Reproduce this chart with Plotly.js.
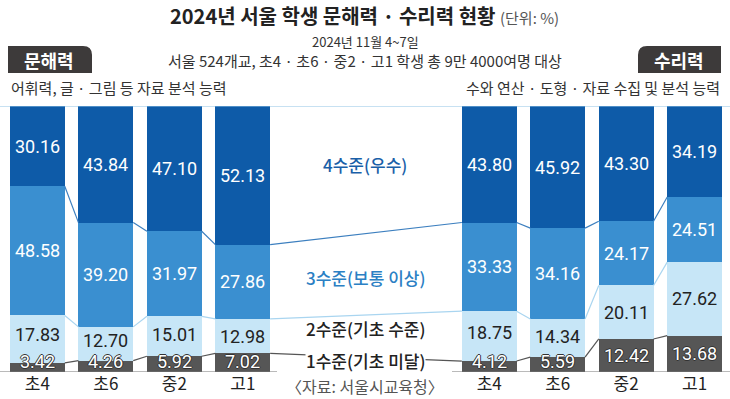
<!DOCTYPE html>
<html>
<head>
<meta charset="utf-8">
<script src="https://cdn.plot.ly/plotly-3.0.1.min.js"></script>
<style>
  html, body { margin: 0; padding: 0; background: #fff; }
  #chart { width: 730px; height: 399px; }
</style>
</head>
<body>
<div id="chart"></div>
<script>
// ---------- DATA ----------
const categories = ['초4', '초6', '중2', '고1'];
// 문해력 (literacy)
const lit1 = [3.42, 4.26, 5.92, 7.02];     // 1수준(기초 미달)
const lit2 = [17.83, 12.70, 15.01, 12.98]; // 2수준(기초 수준)
const lit3 = [48.58, 39.20, 31.97, 27.86]; // 3수준(보통 이상)
const lit4 = [30.16, 43.84, 47.10, 52.13]; // 4수준(우수)
// 수리력 (numeracy)
const num1 = [4.12, 5.59, 12.42, 13.68];
const num2 = [18.75, 14.34, 20.11, 27.62];
const num3 = [33.33, 34.16, 24.17, 24.51];
const num4 = [43.80, 45.92, 43.30, 34.19];

const levelNames = ['1수준(기초 미달)', '2수준(기초 수준)', '3수준(보통 이상)', '4수준(우수)'];

// ---------- LAYOUT HELPERS ----------
const FONT = 'Roboto, "Noto Sans CJK KR", sans-serif';
const KFONT = '"Noto Sans CJK KR", sans-serif';
const colors = ['#565656', '#c7e6f7', '#3a8fd0', '#0e5ba8'];
const lineColors = ['#555555', '#a9d5f0', '#3c7fbf'];
const barW = 0.8;
const rightOffset = 6.6;
const pos = [0, 1, 2, 3].concat([0, 1, 2, 3].map(i => i + rightOffset));

const L = [lit1, lit2, lit3, lit4];
const N = [num1, num2, num3, num4];
const levels = L.map((arr, k) => arr.concat(N[k]));

// plot area in pixels: x 10..722, y 106..372
const PL = 10, PR = 722, PT = 106, PB = 372;
const px = x => (x - PL) / (PR - PL);
const py = y => (PB - y) / (PB - PT);

const traces = levels.map((vals, k) => ({
  type: 'bar', x: pos, y: vals, width: barW, name: levelNames[k],
  marker: { color: colors[k], line: { width: 0 } },
  hoverinfo: 'skip', showlegend: false
}));

// cumulative boundaries
const cum = [];
let run = pos.map(() => 0);
for (let k = 0; k < 4; k++) {
  run = run.map((r, i) => r + levels[k][i]);
  cum.push(run.slice());
}

// connector lines between adjacent bars for boundaries 1/2, 2/3, 3/4
for (let k = 0; k < 3; k++) {
  const xs = [], ys = [];
  for (let i = 0; i < pos.length - 1; i++) {
    xs.push(pos[i] + barW / 2, pos[i + 1] - barW / 2, null);
    ys.push(cum[k][i], cum[k][i + 1], null);
  }
  traces.push({
    type: 'scatter', mode: 'lines', x: xs, y: ys,
    line: { color: lineColors[k], width: 1.2 },
    hoverinfo: 'skip', showlegend: false, cliponaxis: false
  });
}

// value labels
const annotations = [];
const fmt = v => v.toFixed(2);
const VS = 18;
for (let i = 0; i < pos.length; i++) {
  const c1 = cum[0][i], c2 = cum[1][i], c3 = cum[2][i];
  const v1 = levels[0][i];
  annotations.push({ x: pos[i], y: Math.max(v1 / 2, 3.9), text: fmt(v1), showarrow: false,
    font: { family: FONT, size: VS, color: '#ffffff', shadow: '1px 0 0 #333, -1px 0 0 #333, 0 1px 0 #333, 0 -1px 0 #333' },
    yanchor: 'middle' });
  annotations.push({ x: pos[i], y: (Math.max(c1, 7) + c2) / 2, text: fmt(levels[1][i]), showarrow: false,
    font: { family: FONT, size: VS, color: '#222222' }, yanchor: 'middle' });
  annotations.push({ x: pos[i], y: (c2 + c3) / 2, text: fmt(levels[2][i]), showarrow: false,
    font: { family: FONT, size: VS, color: '#ffffff' }, yanchor: 'middle' });
  annotations.push({ x: pos[i], y: (c3 + 100) / 2, text: fmt(levels[3][i]), showarrow: false,
    font: { family: FONT, size: VS, color: '#ffffff' }, yanchor: 'middle' });
}

const textAnn = (x, y, text, size, color, xanchor, extra, weight) => Object.assign({
  xref: 'paper', yref: 'paper', x: px(x), y: py(y), text, showarrow: false, borderpad: 0,
  font: { family: KFONT, size, color, weight: weight || 400 }, xanchor: xanchor || 'center', yanchor: 'middle'
}, extra || {});

annotations.push(
  textAnn(364, 0, '<b>2024년 서울 학생 문해력 · 수리력 현황</b> <span style="font-size:15px;color:#555">(단위: %)</span>', 20, '#222', 'center', { yanchor: 'top' }),
  textAnn(365, 41, '2024년 11월 4~7일', 13, '#333'),
  textAnn(365, 61, '서울 524개교, 초4 · 초6 · 중2 · 고1 학생 총 9만 4000여명 대상', 15, '#333'),
  textAnn(49, 60, '<b>문해력</b>', 18, '#ffffff'),
  textAnn(679, 60, '<b>수리력</b>', 18, '#ffffff'),
  textAnn(10, 88, '어휘력, 글 · 그림 등 자료 분석 능력', 15, '#333', 'left'),
  textAnn(721, 88, '수와 연산 · 도형 · 자료 수집 및 분석 능력', 15, '#333', 'right'),
  textAnn(365, 164, levelNames[3], 17, '#1a5fa8', 'center', null, 500),
  textAnn(365, 277, levelNames[2], 17, '#2b80c4', 'center', null, 500),
  textAnn(365, 328, levelNames[1], 17, '#222', 'center', null, 500),
  textAnn(365, 360, levelNames[0], 17, '#222', 'center', { bgcolor: '#ffffff' }, 500),
  textAnn(365, 386, '〈자료: 서울시교육청〉', 16, '#555')
);

// badge shapes
function badge(x0, x1, y0, y1, roundRight) {
  const X0 = px(x0), X1 = px(x1), Y0 = py(y1), Y1 = py(y0);
  const rx = px(PL + 9) - px(PL), ry = py(PB - 9) - py(PB);
  let path;
  if (roundRight) {
    path = `M ${X0},${Y0} L ${X0},${Y1} L ${X1 - rx},${Y1} Q ${X1},${Y1} ${X1},${Y1 - ry} L ${X1},${Y0} Z`;
  } else {
    path = `M ${X0},${Y0} L ${X0},${Y1 - ry} Q ${X0},${Y1} ${X0 + rx},${Y1} L ${X1},${Y1} L ${X1},${Y0} Z`;
  }
  return { type: 'path', xref: 'paper', yref: 'paper', path, fillcolor: '#3d3a3a', line: { width: 0 } };
}

const shapes = [
  badge(8, 92, 46, 73, true),
  badge(638, 721, 46, 73, false),
  { type: 'line', xref: 'paper', yref: 'y', x0: px(0), x1: px(730), y0: 100, y1: 100,
    line: { color: '#8fc3e6', width: 1 } },
  { type: 'line', xref: 'paper', yref: 'y', x0: px(0), x1: px(277), y0: 0, y1: 0,
    line: { color: '#777', width: 1.2 } },
  { type: 'line', xref: 'paper', yref: 'y', x0: px(452), x1: px(730), y0: 0, y1: 0,
    line: { color: '#777', width: 1.2 } }
];

const layout = {
  width: 730, height: 399,
  margin: { l: PL, r: 730 - PR, t: PT, b: 399 - PB },
  paper_bgcolor: '#ffffff', plot_bgcolor: '#ffffff',
  barmode: 'stack', showlegend: false,
  xaxis: {
    range: [-barW / 2, 9.6 + barW / 2], showgrid: false, zeroline: false, showline: false,
    tickvals: pos, ticktext: categories.concat(categories), ticks: '',
    tickfont: { family: KFONT, size: 17, color: '#222' }, fixedrange: true
  },
  yaxis: { range: [0, 100], visible: false, fixedrange: true },
  annotations, shapes
};

Plotly.newPlot('chart', traces, layout, { displayModeBar: false, staticPlot: true });
</script>
</body>
</html>
